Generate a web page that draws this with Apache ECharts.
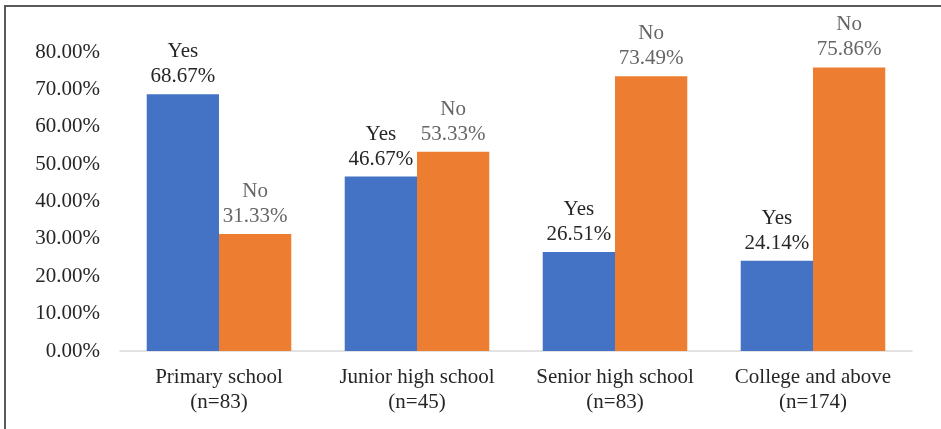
<!DOCTYPE html>
<html><head><meta charset="utf-8">
<script src="https://cdn.jsdelivr.net/npm/echarts@6/dist/echarts.min.js"></script>
<style>html,body{margin:0;padding:0;background:#fff}#c{width:941px;height:429px}</style>
</head><body><div id="c"></div>
<script>
const categories = ['Primary school\n(n=83)', 'Junior high school\n(n=45)', 'Senior high school\n(n=83)', 'College and above\n(n=174)'];
const yesValues = [68.67, 46.67, 26.51, 24.14];
const noValues = [31.33, 53.33, 73.49, 75.86];
const seriesNames = ['Yes', 'No'];
const font = '"Liberation Serif", "Times New Roman", serif';
const chart = echarts.init(document.getElementById('c'));
chart.setOption({
  animation: false,
  graphic: [{type: 'rect', shape: {x: 5, y: 6, width: 1000, height: 1000}, style: {fill: 'none', stroke: '#595959', lineWidth: 2}}],
  grid: {left: 120, right: 29, top: 52, bottom: 78},
  xAxis: {
    type: 'category', data: categories,
    axisLine: {lineStyle: {color: '#d9d9d9', width: 1.5}},
    axisTick: {show: false},
    axisLabel: {interval: 0, fontFamily: font, fontSize: 21, color: '#262626', lineHeight: 25, margin: 14}
  },
  yAxis: {
    type: 'value', min: 0, max: 80, interval: 10,
    splitLine: {show: false},
    axisLabel: {fontFamily: font, fontSize: 21, color: '#262626', margin: 20, formatter: v => v.toFixed(2) + '%'}
  },
  series: [
    {name: seriesNames[0], type: 'bar', data: yesValues, barGap: '0%', barCategoryGap: '27%',
     itemStyle: {color: '#4472C4'},
     label: {show: true, position: 'top', distance: 5, fontFamily: font, fontSize: 21, lineHeight: 25, color: '#262626',
       formatter: p => seriesNames[0] + '\n' + p.value.toFixed(2) + '%'}},
    {name: seriesNames[1], type: 'bar', data: noValues,
     itemStyle: {color: '#ED7D31'},
     label: {show: true, position: 'top', distance: 5, fontFamily: font, fontSize: 21, lineHeight: 25, color: '#666666',
       formatter: p => seriesNames[1] + '\n' + p.value.toFixed(2) + '%'}}
  ]
});
</script></body></html>
